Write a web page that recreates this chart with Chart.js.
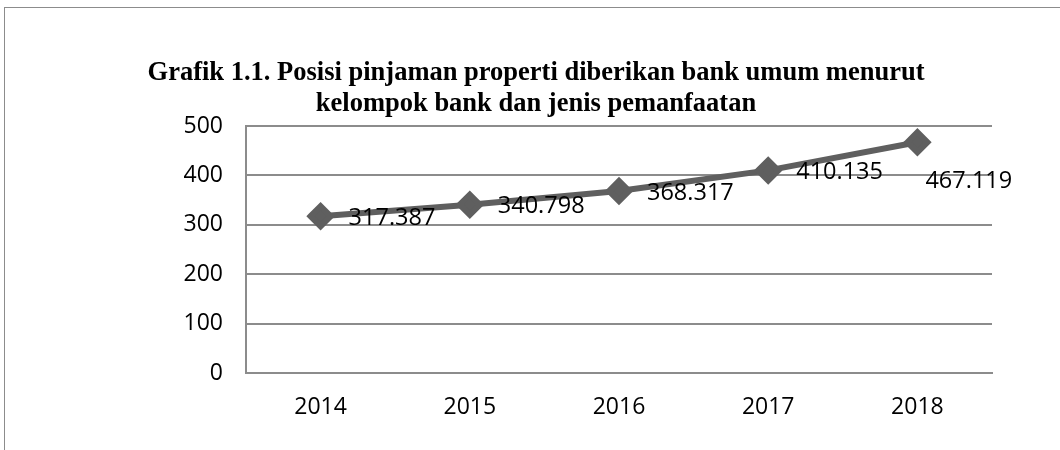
<!DOCTYPE html>
<html>
<head>
<meta charset="utf-8">
<script src="https://cdn.jsdelivr.net/npm/chart.js@4"></script>
<style>
  html, body { margin: 0; padding: 0; background: #fff; }
  #wrap { position: relative; width: 1060px; height: 450px; }
  #frame { position: absolute; left: 4px; top: 7px; right: -2px; bottom: -2px; border: 1px solid #8c8c8c; }
  canvas { position: absolute; left: 0; top: 0; }
</style>
</head>
<body>
<div id="wrap">
  <div id="frame"></div>
  <canvas id="chart" width="1060" height="450"></canvas>
</div>
<script>
// chart data
const years = ['2014', '2015', '2016', '2017', '2018'];
const loanValues = [317.387, 340.798, 368.317, 410.135, 467.119];
const yTicks = [0, 100, 200, 300, 400, 500];

const axisFont = { family: 'Open Sans', size: 23 };

/**
 * Data labels to the right of each point (the last one sits below, as in Excel)
 */
const pointLabels = {
  id: 'pointLabels',
  afterDatasetsDraw(chart) {
    const ctx = chart.ctx;
    const meta = chart.getDatasetMeta(0);
    ctx.save();
    ctx.font = '23.5px "Open Sans"';
    ctx.fillStyle = '#000';
    ctx.textAlign = 'left';
    ctx.textBaseline = 'middle';
    meta.data.forEach((pt, i) => {
      const text = loanValues[i].toFixed(3);
      const last = i === meta.data.length - 1;
      const x = last ? pt.x + 8 : pt.x + 28;
      const y = last ? pt.y + 39 : pt.y + 2;
      ctx.fillText(text, x, y);
    });
    ctx.restore();
  }
};

new Chart(document.getElementById('chart').getContext('2d'), {
  type: 'line',
  data: {
    labels: years,
    datasets: [{
      data: loanValues,
      borderColor: '#5f5f5f',
      backgroundColor: '#5f5f5f',
      borderWidth: 6,
      pointStyle: 'rectRot',
      pointRadius: 10,
      pointHoverRadius: 10,
      tension: 0
    }]
  },
  options: {
    responsive: false,
    animation: false,
    layout: { padding: { top: 50, left: 80, right: 68, bottom: 0 } },
    scales: {
      x: {
        offset: true,
        grid: { display: false, drawTicks: false },
        border: { display: true, color: '#8c8c8c', width: 2 },
        ticks: { color: '#000', font: axisFont, padding: 21 },
        afterFit(scale) { scale.height = 77; }
      },
      y: {
        min: 0,
        max: 500,
        afterBuildTicks(scale) { scale.ticks = yTicks.map(v => ({ value: v })); },
        grid: { color: '#8c8c8c', lineWidth: 2, drawTicks: false },
        border: { display: true, color: '#8c8c8c', width: 2 },
        ticks: { color: '#000', font: axisFont, padding: 23 },
        afterFit(scale) { scale.width = 166; }
      }
    },
    plugins: {
      legend: { display: false },
      tooltip: { enabled: false },
      title: {
        display: true,
        text: ['Grafik 1.1. Posisi pinjaman properti diberikan bank umum menurut', 'kelompok bank dan jenis pemanfaatan'],
        color: '#000',
        font: { family: 'Liberation Serif', size: 26.5, weight: 'bold', lineHeight: 1.17 },
        padding: { top: 8, bottom: 6 }
      }
    }
  },
  plugins: [pointLabels]
});
</script>
</body>
</html>
